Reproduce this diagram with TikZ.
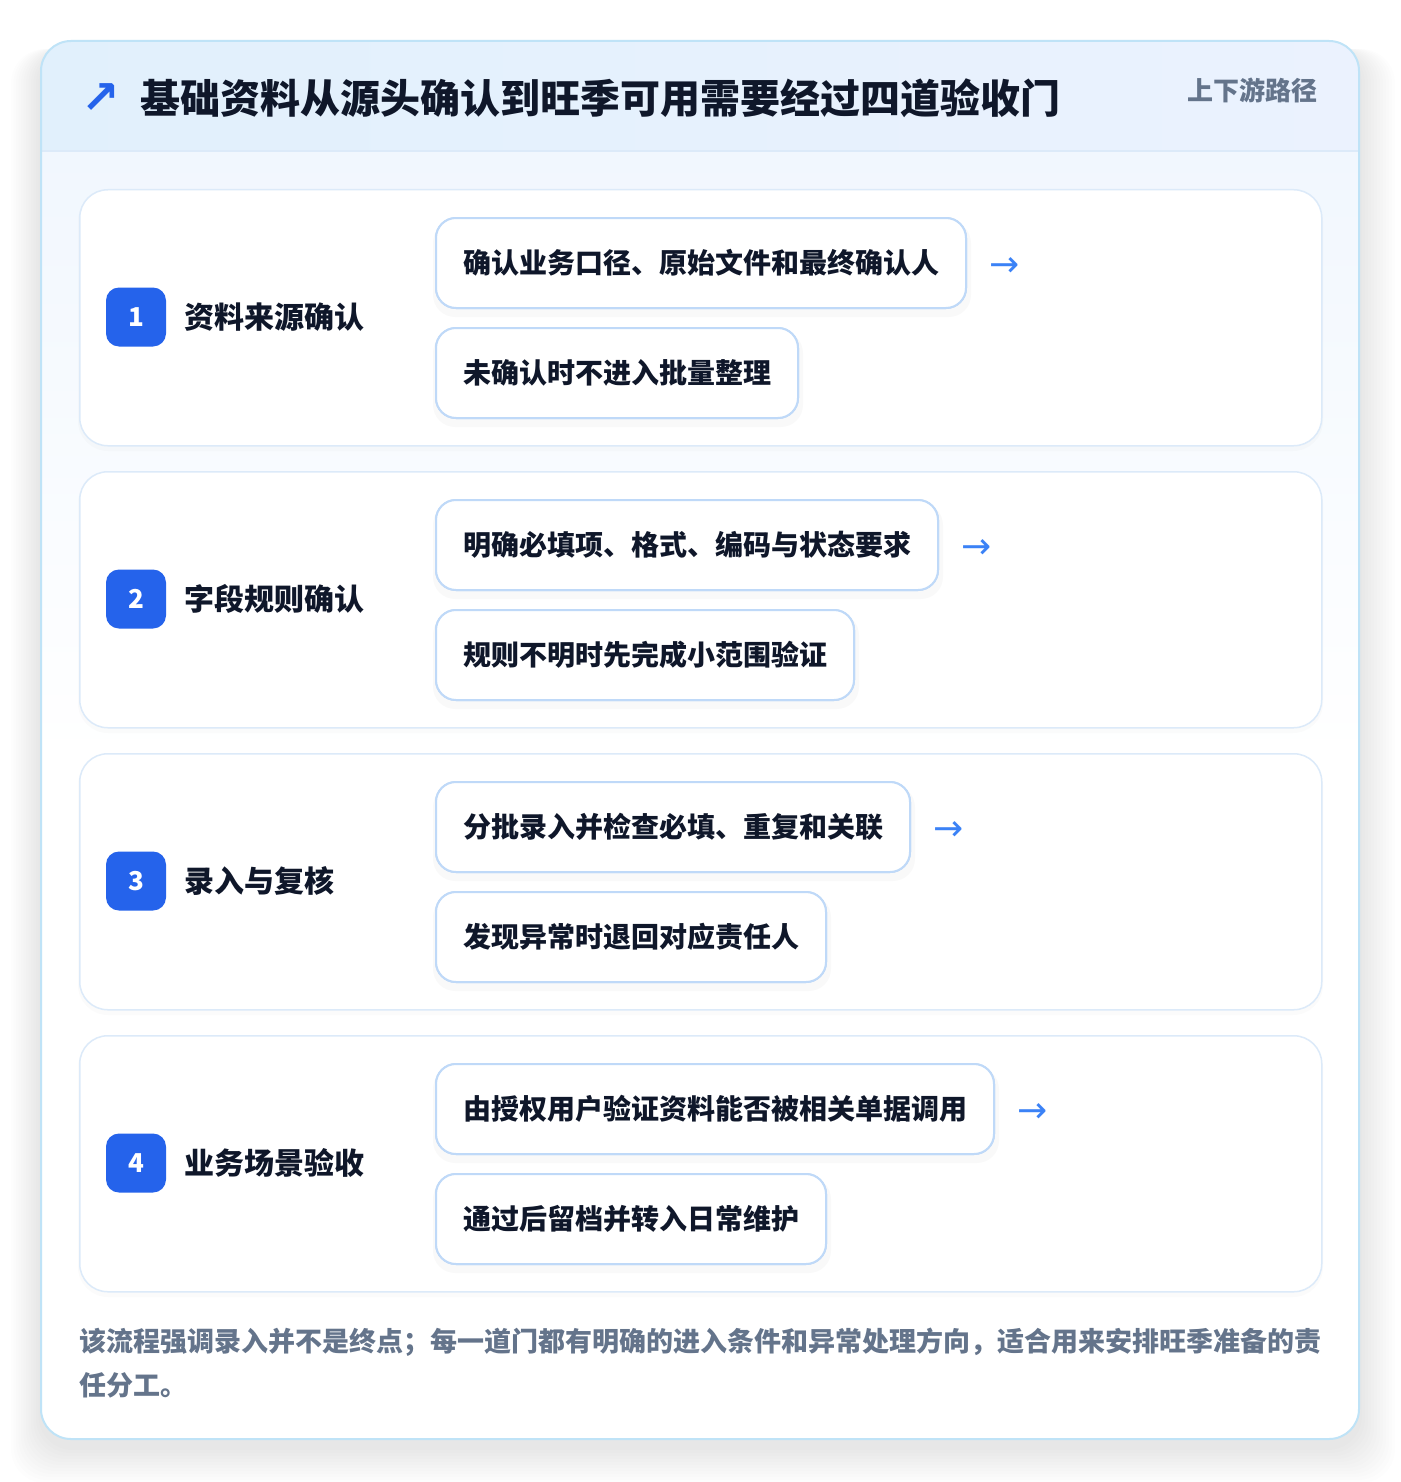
\documentclass[tikz,border=0pt]{standalone}
\usepackage{fontspec}
\setmainfont{Noto Sans CJK SC}
\newfontfamily\dejavu{DejaVu Sans}
\usetikzlibrary{calc}
\definecolor{ink}{HTML}{0F172A}
\definecolor{muted}{HTML}{64748B}
\definecolor{brand}{HTML}{2563EB}
\definecolor{arrowc}{HTML}{3B82F6}
\definecolor{outerb}{HTML}{BFE3F7}
\definecolor{cardb}{HTML}{DCEAF9}
\definecolor{boxb}{HTML}{BFD9F8}
\definecolor{headl}{HTML}{E1F0FC}
\definecolor{headr}{HTML}{EBF2FE}
\definecolor{bodyt}{HTML}{F1F7FE}
\tikzset{
  card/.style={draw=cardb, line width=1.5pt, fill=white, rounded corners=28pt,
    minimum width=1242pt, minimum height=256pt, inner sep=0pt},
  badge/.style={fill=brand, rounded corners=13pt, minimum width=60pt, minimum height=59pt,
    inner sep=0pt, text=white, font=\bfseries\fontsize{26}{30}\selectfont},
  steplabel/.style={inner sep=0pt, text=ink, font=\bfseries\fontsize{30}{36}\selectfont},
  subbox/.style={draw=boxb, line width=2pt, fill=white, rounded corners=20pt,
    inner xsep=27pt, inner ysep=0pt, minimum height=90pt, text=ink,
    font=\bfseries\fontsize{28}{34}\selectfont},
  arrowtxt/.style={inner sep=0pt, text=arrowc, font=\dejavu\fontsize{36}{40}\selectfont},
  foot/.style={inner sep=0pt, text=muted, font=\bfseries\fontsize{27}{34}\selectfont},
}
\begin{document}
\begin{tikzpicture}[x=1pt,y=-1pt]
\useasboundingbox (0,0) rectangle (1400,1482);
\fill[white] (0,0) rectangle (1400,1482);
% outer shadow
\foreach \k in {1,...,12}{
  \fill[black, opacity=0.006, rounded corners=34pt]
    (41-2.5*\k,41+8) rectangle (1359+3*\k,1439+8+3*\k);
}
% outer card body
\fill[white, rounded corners=30pt] (41,41) rectangle (1359,1439);
\begin{scope}
  \clip[rounded corners=30pt] (41,41) rectangle (1359,1439);
  \shade[top color=bodyt, bottom color=white] (41,151) rectangle (1359,760);
  \shade[left color=headl, right color=headr] (41,41) rectangle (1359,151);
  \draw[cardb, line width=1.5pt] (41,151) -- (1359,151);
\end{scope}
\draw[outerb, line width=2pt, rounded corners=30pt] (41,41) rectangle (1359,1439);
% header
\node[inner sep=0pt, text=brand, font=\dejavu\bfseries\fontsize{46}{50}\selectfont, anchor=center] (icon) at (101,99) {↗};
\node[inner sep=0pt, text=ink, font=\bfseries\fontsize{40}{48}\selectfont, anchor=west] (title) at (140,98) {基础资料从源头确认到旺季可用需要经过四道验收门};
\node[inner sep=0pt, text=muted, font=\bfseries\fontsize{26}{30}\selectfont, anchor=east] (tag) at (1318,90) {上下游路径};
% steps
\foreach \i/\t/\lab/\a/\b in {
  1/189/资料来源确认/确认业务口径、原始文件和最终确认人/未确认时不进入批量整理,
  2/471/字段规则确认/明确必填项、格式、编码与状态要求/规则不明时先完成小范围验证,
  3/753/录入与复核/分批录入并检查必填、重复和关联/发现异常时退回对应责任人,
  4/1035/业务场景验收/由授权用户验证资料能否被相关单据调用/通过后留档并转入日常维护}{
  \pgfmathsetmacro{\c}{\t+128}
  \pgfmathsetmacro{\ya}{\t+28}
  \pgfmathsetmacro{\yb}{\t+138}
  \fill[black, opacity=0.015, rounded corners=30pt] (78,\t+2) rectangle (1323,\t+262);
  \node[card, anchor=north west] (card\i) at (79,\t) {};
  \node[badge] (badge\i) at (136,\c) {\i};
  \node[steplabel, anchor=west] (label\i) at (184,\c) {\lab};
  \node[subbox, anchor=north west] (top\i) at (435,\ya) {\a};
  \fill[black, opacity=0.025, rounded corners=22pt] ($(top\i.south west)+(-2,8)$) rectangle ($(top\i.north east)+(4,4)$);
  \node[subbox, anchor=north west] (top\i) at (435,\ya) {\a};
  \node[subbox, anchor=north west] (bot\i) at (435,\yb) {\b};
  \fill[black, opacity=0.025, rounded corners=22pt] ($(bot\i.south west)+(-2,8)$) rectangle ($(bot\i.north east)+(4,4)$);
  \node[subbox, anchor=north west] (bot\i) at (435,\yb) {\b};
  \node[arrowtxt, anchor=west] (arr\i) at ($(top\i.east)+(22,4)$) {→};
}
% footer
\node[foot, anchor=west] (foot1) at (79,1342) {该流程强调录入并不是终点；每一道门都有明确的进入条件和异常处理方向，适合用来安排旺季准备的责};
\node[foot, anchor=west] (foot2) at (79,1385) {任分工。};
\end{tikzpicture}
\end{document}
